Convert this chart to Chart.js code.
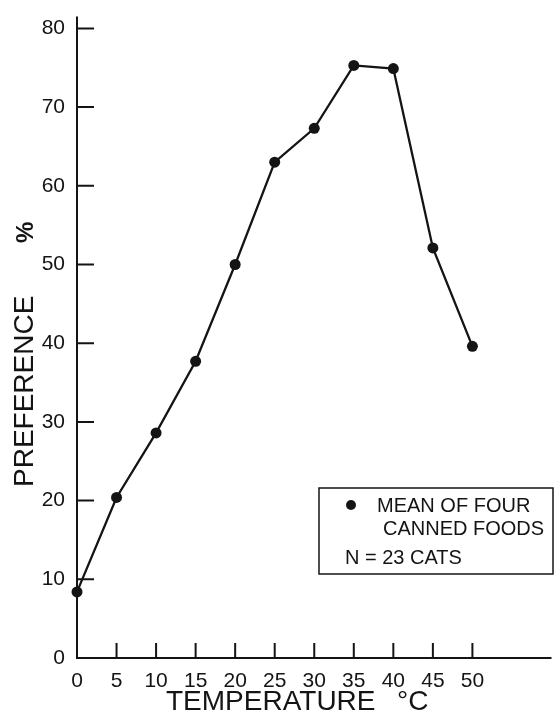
<!DOCTYPE html>
<html>
<head>
<meta charset="utf-8">
<script src="https://cdn.jsdelivr.net/npm/chart.js@4.4.0/dist/chart.umd.min.js"></script>
<style>
	html, body { margin: 0; padding: 0; background: #fff; }
	#wrap { width: 557px; height: 710px; }
</style>
</head>
<body>
<div id="wrap"><canvas id="myChart" width="557" height="710"></canvas></div>
<script>
// temperature of food (deg C) and preference (%)
var temps = [0, 5, 10, 15, 20, 25, 30, 35, 40, 45, 50];
var prefs = [8.4, 20.4, 28.6, 37.7, 50, 63, 67.3, 75.3, 74.9, 52.1, 39.6];

var xTicks = [0, 5, 10, 15, 20, 25, 30, 35, 40, 45, 50];
var yTicks = [0, 10, 20, 30, 40, 50, 60, 70, 80];

var legendLines = ["MEAN OF FOUR", "CANNED FOODS", "N = 23 CATS"];
var xTitle = ["TEMPERATURE", "°C"];
var yTitle = ["PREFERENCE", "%"];

var ink = "#141414";
var font = "'Liberation Sans', Arial, sans-serif";

var points = [];
for (var i = 0; i < temps.length; i++) {
	points.push({x: temps[i], y: prefs[i]});
}

// axes, inward ticks, titles and the legend box
var paperPlugin = {
	id: "paper",
	afterDatasetsDraw: function (chart) {
		var ctx = chart.ctx;
		var xs = chart.scales.x;
		var ys = chart.scales.y;
		var area = chart.chartArea;
		var x0 = xs.getPixelForValue(0);
		var y0 = ys.getPixelForValue(0);

		ctx.save();
		ctx.strokeStyle = ink;
		ctx.fillStyle = ink;
		ctx.lineWidth = 2;

		// axis lines
		ctx.beginPath();
		ctx.moveTo(x0, area.top);
		ctx.lineTo(x0, y0);
		ctx.lineTo(area.right, y0);
		ctx.stroke();

		// tick marks pointing into the plot
		ctx.beginPath();
		for (var i = 1; i < yTicks.length; i++) {
			var py = ys.getPixelForValue(yTicks[i]);
			ctx.moveTo(x0, py);
			ctx.lineTo(x0 + 17, py);
		}
		for (var j = 1; j < xTicks.length; j++) {
			var px = xs.getPixelForValue(xTicks[j]);
			ctx.moveTo(px, y0);
			ctx.lineTo(px, y0 - 15);
		}
		ctx.stroke();

		// x title
		ctx.font = "28px " + font;
		ctx.textBaseline = "alphabetic";
		ctx.textAlign = "left";
		ctx.fillText(xTitle[0], 166, 710);
		ctx.fillText(xTitle[1], 397, 710);

		// y title, rotated
		ctx.save();
		ctx.translate(33, 487);
		ctx.rotate(-Math.PI / 2);
		ctx.fillText(yTitle[0], 0, 0);
		ctx.font = "bold 24px " + font;
		ctx.fillText(yTitle[1], 244, 0);
		ctx.restore();

		// legend box
		ctx.lineWidth = 1.5;
		ctx.strokeRect(319, 488, 234, 86);
		ctx.beginPath();
		ctx.arc(351, 505, 5, 0, Math.PI * 2);
		ctx.fill();
		ctx.font = "20px " + font;
		ctx.fillText(legendLines[0], 377, 512);
		ctx.fillText(legendLines[1], 383, 535);
		ctx.fillText(legendLines[2], 345, 564);

		ctx.restore();
	}
};

new Chart("myChart", {
	type: "scatter",
	data: {
		datasets: [{
			data: points,
			showLine: true,
			borderColor: ink,
			borderWidth: 2.3,
			backgroundColor: ink,
			pointRadius: 5.5,
			pointHoverRadius: 5.5,
			pointBorderWidth: 0,
			clip: false
		}]
	},
	plugins: [paperPlugin],
	options: {
		responsive: false,
		animation: false,
		layout: {padding: {top: 10, right: 0, left: 0, bottom: 0}},
		plugins: {
			legend: {display: false},
			tooltip: {enabled: false},
			title: {display: false}
		},
		scales: {
			x: {
				type: "linear",
				min: 0,
				max: 60,
				grid: {display: false},
				border: {display: false},
				afterBuildTicks: function (scale) {
					scale.ticks = xTicks.map(function (v) { return {value: v}; });
				},
				afterFit: function (scale) { scale.height = 52; },
				ticks: {
					color: ink,
					padding: 3,
					maxRotation: 0,
					autoSkip: false,
					font: {family: font, size: 21}
				}
			},
			y: {
				min: 0,
				max: 81.5,
				grid: {display: false},
				border: {display: false},
				afterBuildTicks: function (scale) {
					scale.ticks = yTicks.map(function (v) { return {value: v}; });
				},
				afterFit: function (scale) { scale.width = 77; },
				ticks: {
					color: ink,
					padding: 4,
					autoSkip: false,
					font: {family: font, size: 21}
				}
			}
		}
	}
});
</script>
</body>
</html>
